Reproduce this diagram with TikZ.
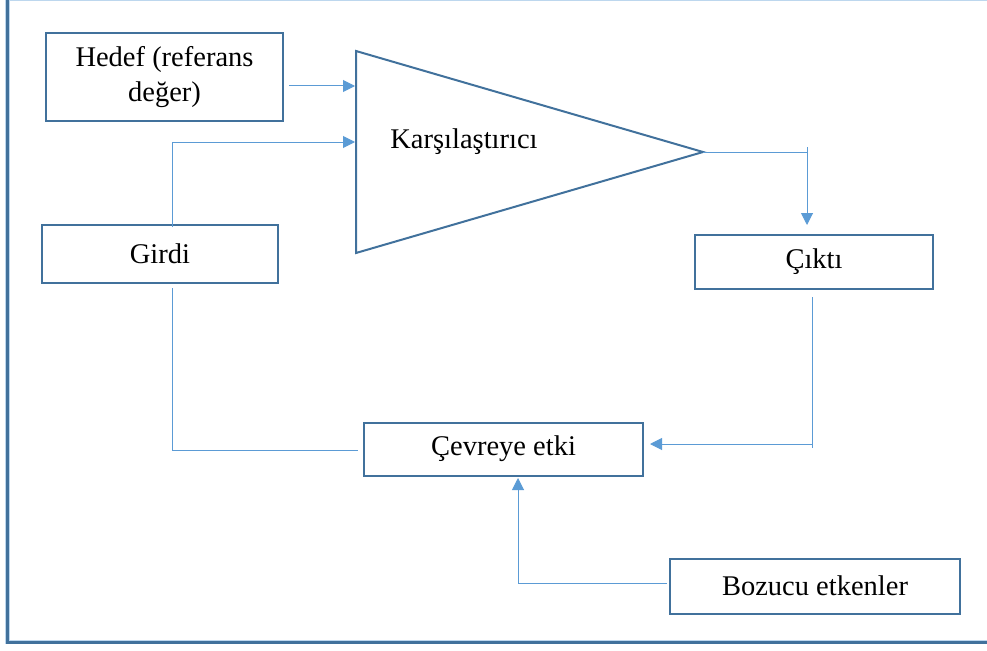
\documentclass[tikz,border=0pt]{standalone}
\usepackage{fontspec}
\setmainfont{Liberation Serif}
\usetikzlibrary{arrows.meta}
\definecolor{boxblue}{RGB}{65,113,156}
\definecolor{linkblue}{RGB}{91,155,213}
\definecolor{lightedge}{RGB}{189,215,238}
\begin{document}
\begin{tikzpicture}[x=1pt,y=-1pt,
  box/.style={draw=boxblue,line width=2pt,rectangle,inner sep=0pt,align=center,
    font=\fontsize{28.5}{35}\selectfont},
  lbl/.style={inner sep=0pt,font=\fontsize{28.5}{35}\selectfont},
  link/.style={draw=linkblue,line width=1pt},
  arr/.style={link,-{Triangle[length=12pt,width=12pt]}}]
\useasboundingbox (0,0) rectangle (987,650);
% frame
\draw[lightedge,line width=1.5pt] (7.5,0.75) -- (987,0.75);
\draw[lightedge,line width=4.5pt] (7.5,0) -- (7.5,642) -- (987,642);
\draw[boxblue,line width=3pt] (7.5,0) -- (7.5,642) -- (987,642);
% boxes
\node[box,minimum width=237pt,minimum height=88pt] (hedef) at (164.5,77) {Hedef (referans\\değer)};
\node[box,minimum width=236pt,minimum height=58pt] (girdi) at (160,254) {Girdi};
\node[box,minimum width=238pt,minimum height=54pt] (cikti) at (814,262) {Çıktı};
\node[box,minimum width=279pt,minimum height=53pt] (cevre) at (503.5,449) {Çevreye etki};
\node[box,minimum width=290pt,minimum height=55pt] (bozucu) at (815,586) {Bozucu etkenler};
% comparator triangle
\coordinate (tl) at (356,51);
\coordinate (bl) at (356,253);
\coordinate (apex) at (703,152);
\draw[boxblue,line width=2pt,line join=miter] (tl) -- (apex) -- (bl) -- cycle;
\node[lbl] (karsi) at (464,142) {Karşılaştırıcı};
% connector points
\coordinate (h1) at (289,86);
\coordinate (in1) at (355,86);
\coordinate (g1) at (172,227);
\coordinate (g2) at (172,142);
\coordinate (in2) at (355,142);
\coordinate (o1) at (807,152);
\coordinate (o0) at (807,147);
\coordinate (o2) at (807,225);
\coordinate (c1) at (812,297);
\coordinate (c2) at (812,448);
\coordinate (c3) at (812,444);
\coordinate (c4) at (650,444);
\coordinate (g3) at (172,288);
\coordinate (g4) at (172,450);
\coordinate (g5) at (358,450);
\coordinate (b1) at (667,583);
\coordinate (b2) at (518,583);
\coordinate (b3) at (518,478);
% connectors
\draw[arr] (h1) -- (in1);
\draw[arr] (g1) -- (g2) -- (in2);
\draw[link] (apex) -- (o1);
\draw[arr] (o0) -- (o2);
\draw[link] (c1) -- (c2);
\draw[arr] (c3) -- (c4);
\draw[link] (g3) -- (g4) -- (g5);
\draw[arr] (b1) -- (b2) -- (b3);
\end{tikzpicture}
\end{document}
